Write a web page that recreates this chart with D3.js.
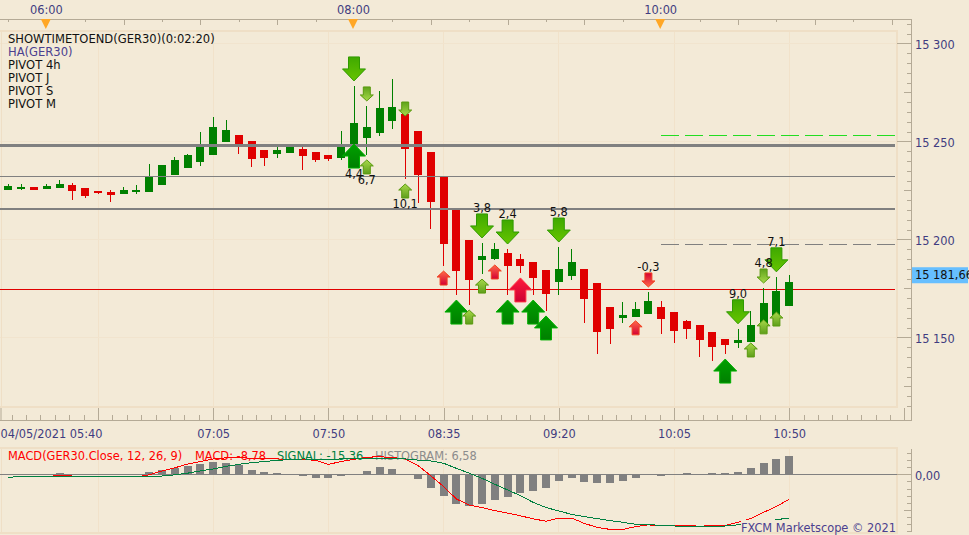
<!DOCTYPE html>
<html>
<head>
<meta charset="utf-8">
<title>GER30</title>
<script src="https://cdn.jsdelivr.net/npm/d3@7"></script>
<style>
    html, body { margin: 0; padding: 0; background: #f3ead7; overflow: hidden; }
    svg { display: block; }
    text { font-family: "DejaVu Sans", Verdana, sans-serif; font-size: 11.4px; }
    .axis path, .axis line { stroke: #b4aa96; fill: none; shape-rendering: crispEdges; }
    .axis text { fill: #3f3c80; font-size: 11.4px; font-family: "DejaVu Sans", Verdana, sans-serif; }
</style>
</head>
<body>
<div id="chart"></div>
<script>
// candles, one every 5 minutes from 05:45
var candleOpen = [15225.2,15225.7,15226.7,15225.7,15226.2,15227.7,15226.2,15224.6,15224.1,15223.1,15224.1,15224.1,15227.7,15232.8,15236.4,15239.4,15243.0,15249.6,15253.2,15250.2,15245.6,15243.5,15244.0,15246.1,15244.5,15243.0,15241.5,15247.1,15251.7,15254.2,15260.4,15263.9,15255.3,15244.5,15231.8,15215.0,15199.7,15189.5,15190.0,15193.0,15190.0,15188.4,15184.3,15178.2,15181.3,15184.8,15177.7,15165.5,15159.9,15160.4,15161.9,15165.5,15162.9,15158.4,15156.4,15152.7,15149.1,15147.1,15147.6,15155.9,15160.9,15166.0];
var candleClose = [15227.2,15226.7,15225.2,15227.2,15228.2,15224.6,15222.1,15223.6,15222.6,15225.2,15225.2,15231.8,15237.9,15240.5,15243.0,15247.1,15257.3,15255.8,15247.6,15241.0,15241.5,15245.6,15247.1,15242.5,15240.5,15241.0,15247.1,15259.3,15257.3,15267.0,15267.5,15246.1,15232.8,15219.0,15197.6,15183.8,15179.2,15191.5,15195.0,15186.4,15186.4,15180.3,15172.1,15184.8,15188.4,15169.5,15152.7,15154.2,15161.4,15164.4,15168.5,15159.4,15153.2,15154.2,15148.6,15145.1,15146.1,15148.6,15156.4,15167.5,15173.6,15178.2];
var candleHigh = [15228.2,15228.2,15226.7,15228.2,15230.3,15228.7,15226.2,15224.6,15225.2,15226.7,15227.7,15238.4,15237.9,15242.0,15243.5,15254.7,15262.4,15260.9,15253.2,15250.2,15245.6,15247.1,15248.1,15247.1,15244.5,15243.0,15255.3,15278.2,15268.0,15275.7,15281.8,15263.9,15255.3,15244.5,15231.8,15215.0,15199.7,15198.1,15198.1,15195.0,15192.5,15188.4,15184.3,15196.1,15195.0,15184.8,15177.7,15165.5,15168.0,15168.0,15173.1,15168.5,15162.9,15158.9,15156.4,15152.7,15149.1,15154.2,15163.4,15175.2,15180.8,15181.8];
var candleLow = [15225.2,15225.2,15225.2,15225.7,15226.2,15220.0,15221.1,15223.1,15219.0,15223.1,15223.1,15224.1,15227.7,15232.8,15236.4,15237.4,15243.0,15249.6,15243.5,15236.9,15237.4,15241.5,15244.0,15235.4,15239.4,15239.9,15240.5,15237.9,15243.0,15252.7,15256.3,15230.8,15218.5,15205.3,15186.4,15171.6,15166.5,15182.3,15189.5,15171.6,15182.8,15171.6,15163.4,15171.6,15179.2,15157.4,15141.5,15146.6,15157.4,15160.4,15161.9,15151.7,15147.1,15149.1,15140.0,15137.9,15141.5,15144.6,15147.6,15155.9,15160.9,15166.0];

// macd pane, same time steps
var macdValues = [-1.1,-0.7,-0.8,-0.8,-0.4,-0.6,-0.9,-0.9,-0.9,-0.9,-0.9,-0.2,1.2,2.3,3.6,4.5,5.4,5.8,6.0,5.6,5.4,5.4,5.3,5.3,4.9,3.5,4.5,5.3,6.0,6.2,5.9,5.4,3.1,-0.5,-4.3,-8.7,-10.8,-11.7,-12.8,-13.7,-14.6,-15.7,-16.5,-15.4,-15.4,-17.3,-18.7,-19.4,-19.4,-18.4,-17.8,-18.2,-18.2,-18.0,-18.3,-18.0,-18.0,-16.9,-15.6,-13.4,-11.3,-8.78];
var signalValues = [-1.1,-0.7,-0.8,-0.8,-0.8,-0.8,-0.8,-0.8,-0.8,-0.8,-0.9,-0.7,-0.6,-0.2,0.4,1.2,1.9,2.8,3.5,4.1,4.5,4.9,5.2,5.4,5.3,5.3,5.4,5.5,5.6,5.4,5.4,5.4,5.0,4.7,3.9,2.1,0.4,-1.4,-3.5,-5.5,-7.5,-9.9,-11.7,-12.9,-14.1,-14.9,-15.6,-16.3,-16.9,-17.6,-17.7,-18.0,-18.2,-18.3,-18.5,-18.5,-18.2,-17.8,-17.3,-16.7,-16.0,-15.36];
var histValues = [0,0,0,0,0.6,0,0,0,0,0,0,0.7,1.4,2.1,2.9,3.6,4.3,4.0,3.2,1.5,0.8,0.5,0,-0.6,-1.3,-1.3,-0.6,0,1.2,2.6,1.9,0,-1.6,-4.7,-7.5,-10.3,-11,-10.3,-8.9,-7.9,-6.5,-5.8,-4.7,-2.2,-1.2,-2.6,-2.9,-2.9,-2.2,-1.2,0,-0.5,0,0.5,0,0.5,0.5,0.8,2.2,4.0,5.4,6.58];

// pivot levels
var solidPivots = [15231.8, 15215.5];
var thickPivots = [15248.1];
var redPivots = [15174.6];
var dashedGreyPivots = [15197.1];
var dashedGreenPivots = [15253.2];

// arrows: [candle index, tip price, label]
var bigDown = [[27,15280.8,""],[37,15200.7,"3,8"],[39,15197.6,"2,4"],[43,15198.6,"5,8"],[57,15156.9,"9,0"],[60,15183.4,"7,1"]];
var bigUp = [[27,15248.6,"4,4"],[35,15169.0,""],[39,15169.0,""],[41,15169.0,""],[42,15160.9,""],[56,15138.9,""]];
var bigRedUp = [[40,15180.3,""]];
var smallDown = [[28,15270.6,""],[31,15262.9,""],[59,15177.7,"4,8"]];
var smallRedDown = [[50,15175.7,"-0,3"]];
var smallUp = [[28,15240.5,"6,7"],[31,15228.2,"10,1"],[36,15163.9,""],[37,15179.7,""],[58,15147.1,""],[59,15158.9,""],[60,15162.9,""]];
var smallRedUp = [[34,15183.8,""],[38,15186.9,""],[49,15158.4,""]];

var legendNames = ["SHOWTIMETOEND(GER30)(0:02:20)", "HA(GER30)", "PIVOT 4h", "PIVOT J", "PIVOT S", "PIVOT M"];
var lastPrice = 15181.66;
var priceLabels = [15300, 15250, 15200, 15150];
var sessionHours = [6, 8, 10];

var width = 969, height = 535;
var axisX = 911.5, paneRight = 897;

var t0 = new Date(2021, 4, 4, 5, 45);
function timeAt(i) { return new Date(+t0 + i * 5 * 60000); }
function minutes(h, m) { return new Date(2021, 4, 4, h, m); }

var x = d3.scaleTime().domain([t0, timeAt(72)]).range([8.4, 8.4 + 72 * 12.8]);
var y = d3.scaleLinear().domain([15300, 15150]).range([43.3, 337.3]);
var yMacd = d3.scaleLinear().domain([0, -10]).range([474.3, 502.7]);

var fr = d3.formatLocale({decimal: ",", thousands: " ", grouping: [3], currency: ["", ""]});
var fmtPrice = fr.format(",.0f"), fmtLast = fr.format(",.2f");

var svg = d3.select("#chart").append("svg").attr("width", width).attr("height", height);
var defs = svg.append("defs");

function gradient(id, c1, c2) {
    var g = defs.append("linearGradient").attr("id", id).attr("x1", 0).attr("y1", 0).attr("x2", 0).attr("y2", 1);
    g.append("stop").attr("offset", "0%").attr("stop-color", c1);
    g.append("stop").attr("offset", "100%").attr("stop-color", c2);
}
gradient("gBigDown", "#3fa900", "#66c400");
gradient("gBigUp", "#00a000", "#007f00");
gradient("gBigRed", "#ff1a3c", "#cc0033");
gradient("gSmallDown", "#5ea31a", "#a8d94a");
gradient("gSmallUp", "#a8d94a", "#5e9e1a");
gradient("gRedUp", "#ff6a4a", "#d40033");
gradient("gRedDown", "#d40033", "#ff6a4a");

// major time marks every 45 minutes starting 06:20
var firstMajor = minutes(6, 20);
var gridTimes = d3.range(0, 7).map(function (k) { return new Date(+firstMajor + k * 45 * 60000); });

// ---------- grid and pane borders ----------
var grid = svg.append("g").style("shape-rendering", "crispEdges");
grid.selectAll(".vmain").data(gridTimes).enter().append("line")
    .attr("x1", function (d) { return x(d); }).attr("x2", function (d) { return x(d); })
    .attr("y1", 31).attr("y2", 407).attr("stroke", "#f1e2ca");
grid.selectAll(".vmacd").data(gridTimes).enter().append("line")
    .attr("x1", function (d) { return x(d); }).attr("x2", function (d) { return x(d); })
    .attr("y1", 449).attr("y2", 533).attr("stroke", "#f1e2ca");
grid.selectAll(".h").data(priceLabels).enter().append("line")
    .attr("x1", 0).attr("x2", paneRight)
    .attr("y1", function (d) { return y(d); }).attr("y2", function (d) { return y(d); })
    .attr("stroke", "#f1e4ce");
[[31, 407], [448, 533]].forEach(function (p) {
    grid.append("path")
        .attr("d", "M0," + p[0] + "H" + paneRight + "V" + p[1] + "H0")
        .attr("fill", "none").attr("stroke", "#efdfc6").attr("stroke-width", 2);
});
grid.append("line").attr("x1", 1).attr("x2", 1).attr("y1", 31).attr("y2", 407).attr("stroke", "#efdfc6");
grid.append("line").attr("x1", 1).attr("x2", 1).attr("y1", 448).attr("y2", 533).attr("stroke", "#efdfc6");

// ---------- axes ----------
function hline(level, color, sw, xStart, dash) {
    var l = svg.append("line")
        .attr("x1", xStart).attr("x2", paneRight - 2)
        .attr("y1", y(level)).attr("y2", y(level))
        .attr("stroke", color).attr("stroke-width", sw)
        .style("shape-rendering", "crispEdges");
    if (dash) l.attr("stroke-dasharray", dash);
}

// top time axis
var topTicks = d3.range(0, 24).map(function (k) { return new Date(+minutes(5, 45) + k * 15 * 60000); });
var topMajor = topTicks.filter(function (d) { return d.getMinutes() % 30 === 0; });
var topMinor = topTicks.filter(function (d) { return d.getMinutes() % 30 !== 0; });
svg.append("g").attr("class", "axis").attr("transform", "translate(0,18.5)")
    .call(d3.axisBottom(x).tickValues(topMajor).tickSize(6).tickSizeOuter(0).tickFormat(""))
    .select(".domain").attr("d", "M0,0.5H" + axisX);
svg.append("g").attr("class", "axis").attr("transform", "translate(0,18.5)")
    .call(d3.axisBottom(x).tickValues(topMinor).tickSize(3).tickSizeOuter(0).tickFormat(""))
    .select(".domain").remove();
var sessions = sessionHours.map(function (h) { return minutes(h, 0); });
var topLabels = svg.append("g").attr("class", "axis").attr("transform", "translate(-1,14)")
    .call(d3.axisTop(x).tickValues(sessions).tickSize(0).tickPadding(0).tickFormat(d3.timeFormat("%H:%M")));
topLabels.select(".domain").remove();
svg.selectAll(".sessionMark").data(sessions).enter().append("path")
    .attr("d", function (d) {
        var px = x(d) - 1;
        return "M" + (px - 5) + ",19H" + (px + 5) + "L" + px + ",29Z";
    })
    .attr("fill", "#ffa726");

// bottom time axis, 8 divisions in every 45 minutes
var bottomMinor = d3.range(-6, 70).map(function (k) { return new Date(+firstMajor + k * 5.625 * 60000); })
    .filter(function (d) { return x(d) > 2 && x(d) < axisX - 2; });
var bottomMajor = d3.range(0, 8).map(function (k) { return new Date(+firstMajor + k * 45 * 60000); });
svg.append("g").attr("class", "axis").attr("transform", "translate(0,420.5)")
    .call(d3.axisTop(x).tickValues(bottomMinor).tickSize(6).tickSizeOuter(0).tickFormat(""))
    .select(".domain").attr("d", "M0,0H" + axisX);
svg.append("g").attr("class", "axis").attr("transform", "translate(0,420.5)")
    .call(d3.axisTop(x).tickValues(bottomMajor).tickSize(13).tickSizeOuter(0).tickFormat(""))
    .select(".domain").remove();
svg.append("line").attr("x1", 1).attr("x2", 1).attr("y1", 408).attr("y2", 421).attr("stroke", "#b4aa96");

var firstLabel = minutes(5, 40);
var labelTimes = [firstLabel].concat(bottomMajor.slice(1, 7));
var bottomLabels = svg.append("g").attr("class", "axis").attr("transform", "translate(0,418)")
    .call(d3.axisBottom(x).tickValues(labelTimes).tickSize(0).tickPadding(12)
        .tickFormat(function (d, i) { return i === 0 ? d3.timeFormat("%d/%m/%Y %H:%M")(d) : d3.timeFormat("%H:%M")(d); }));
bottomLabels.select(".domain").remove();
bottomLabels.select(".tick text").attr("text-anchor", "start").attr("x", -x(firstLabel));

// price axis
var priceTicks = d3.range(15115, 15315, 5);
function priceTickLen(v) { return v % 50 === 0 ? 15 : (v % 25 === 0 ? 8 : 5); }
[15, 8, 5].forEach(function (len) {
    svg.append("g").attr("class", "axis").attr("transform", "translate(" + axisX + ",0)")
        .call(d3.axisLeft(y).tickValues(priceTicks.filter(function (v) { return priceTickLen(v) === len; }))
            .tickSize(len).tickSizeOuter(0).tickFormat(""))
        .select(".domain").attr("d", "M0,18.5V421");
});
var priceAxisLabels = svg.append("g").attr("class", "axis").attr("transform", "translate(" + (axisX + 3.5) + ",1.5)")
    .call(d3.axisRight(y).tickValues(priceLabels).tickSize(0).tickPadding(0).tickFormat(fmtPrice));
priceAxisLabels.select(".domain").remove();

// macd axis
var macdTicks = d3.range(-20, 10, 2.5);
function macdTickLen(v) { return v === 0 ? 15 : (v === -12.5 ? 8 : 5); }
[15, 8, 5].forEach(function (len) {
    svg.append("g").attr("class", "axis").attr("transform", "translate(" + axisX + ",0)")
        .call(d3.axisLeft(yMacd).tickValues(macdTicks.filter(function (v) { return macdTickLen(v) === len; }))
            .tickSize(len).tickSizeOuter(0).tickFormat(""))
        .select(".domain").attr("d", "M0,449V532");
});
var macdAxisLabels = svg.append("g").attr("class", "axis").attr("transform", "translate(" + (axisX + 3.5) + ",1.5)")
    .call(d3.axisRight(yMacd).tickValues([0]).tickSize(0).tickPadding(0).tickFormat(function () { return "0,00"; }));
macdAxisLabels.select(".domain").remove();

// ---------- main pane ----------
redPivots.forEach(function (v) { hline(v, "#e00000", 1, 0); });

var idx = d3.range(candleOpen.length);
function candleColor(i) { return candleClose[i] >= candleOpen[i] ? "#008000" : "#e00000"; }

var candles = svg.append("g").style("shape-rendering", "crispEdges");
candles.selectAll(".wick").data(idx).enter().append("line")
    .attr("x1", function (i) { return x(timeAt(i)); })
    .attr("x2", function (i) { return x(timeAt(i)); })
    .attr("y1", function (i) { return y(candleHigh[i]); })
    .attr("y2", function (i) { return y(candleLow[i]); })
    .attr("stroke", candleColor);
candles.selectAll(".body").data(idx).enter().append("rect")
    .attr("x", function (i) { return x(timeAt(i)) - 4; })
    .attr("width", 8)
    .attr("y", function (i) { return y(Math.max(candleOpen[i], candleClose[i])); })
    .attr("height", function (i) { return Math.abs(y(candleOpen[i]) - y(candleClose[i])); })
    .attr("fill", candleColor);

thickPivots.forEach(function (v) { hline(v, "#808080", 3, 0); });
solidPivots.forEach(function (v, i) { hline(v, "#808080", i === 0 ? 1 : 2, 0); });
var sessionStart = x(minutes(10, 0));
dashedGreyPivots.forEach(function (v) { hline(v, "#808080", 1, sessionStart, "18 6"); });
dashedGreenPivots.forEach(function (v) { hline(v, "#22dd22", 1, sessionStart, "18 6"); });

// arrow outline with the tip at 0,0
function arrowPath(w, stem, head, total, dir) {
    var s = dir === "up" ? 1 : -1;
    return "M0,0L" + (w / 2) + "," + (s * head) + "H" + (stem / 2) + "V" + (s * total) +
        "H" + (-stem / 2) + "V" + (s * head) + "H" + (-w / 2) + "Z";
}

var arrowLayer = svg.append("g");
var labelLayer = svg.append("g");

function drawArrows(list, size, dir, fill, edge) {
    var w = size === "big" ? 23 : 13;
    var stem = size === "big" ? 11 : 7;
    var head = size === "big" ? 12 : 6;
    var total = size === "big" ? 24 : 14;
    arrowLayer.selectAll(null).data(list).enter().append("path")
        .attr("transform", function (d) { return "translate(" + x(timeAt(d[0])) + "," + y(d[1]) + ")"; })
        .attr("d", arrowPath(w, stem, head, total, dir))
        .attr("fill", fill).attr("stroke", edge).attr("stroke-width", 1);
    labelLayer.selectAll(null).data(list.filter(function (d) { return d[2] !== ""; })).enter().append("text")
        .attr("x", function (d) { return x(timeAt(d[0])); })
        .attr("y", function (d) { return y(d[1]) + (dir === "up" ? total + 10 : -total - 2); })
        .attr("text-anchor", "middle")
        .attr("fill", "#111")
        .text(function (d) { return d[2]; });
}
drawArrows(bigDown, "big", "down", "url(#gBigDown)", "#2f9a00");
drawArrows(bigUp, "big", "up", "url(#gBigUp)", "#00b000");
drawArrows(bigRedUp, "big", "up", "url(#gBigRed)", "#ff3040");
drawArrows(smallDown, "small", "down", "url(#gSmallDown)", "#5a9a10");
drawArrows(smallRedDown, "small", "down", "url(#gRedDown)", "#f04020");
drawArrows(smallUp, "small", "up", "url(#gSmallUp)", "#5a9a10");
drawArrows(smallRedUp, "small", "up", "url(#gRedUp)", "#f04020");

// indicator names
svg.append("g").selectAll("text").data(legendNames).enter().append("text")
    .attr("x", 8)
    .attr("y", function (d, i) { return 43 + i * 13; })
    .attr("fill", function (d, i) { return i === 1 ? "#4b3f8f" : "#111"; })
    .style("font-size", "11.55px")
    .text(function (d) { return d; });

// last price tag
svg.append("rect").attr("x", axisX + 0.5).attr("y", y(lastPrice) - 8).attr("width", 56).attr("height", 16).attr("fill", "#66bfff");
svg.append("text").attr("x", axisX + 3.5).attr("y", y(lastPrice) + 4).attr("fill", "#111").text(fmtLast(lastPrice));

// ---------- macd pane ----------
svg.append("g").style("shape-rendering", "crispEdges")
    .selectAll("rect").data(idx.filter(function (i) { return histValues[i] !== 0; })).enter().append("rect")
    .attr("x", function (i) { return x(timeAt(i)) - 4; })
    .attr("width", 8)
    .attr("y", function (i) { return Math.min(yMacd(histValues[i]), yMacd(0)); })
    .attr("height", function (i) { return Math.abs(yMacd(histValues[i]) - yMacd(0)); })
    .attr("fill", "#808080");
svg.append("line").attr("x1", 0).attr("x2", paneRight)
    .attr("y1", yMacd(0)).attr("y2", yMacd(0))
    .attr("stroke", "#808080").style("shape-rendering", "crispEdges");

[["MACD(GER30.Close, 12, 26, 9)", 8, "#ff0000"], ["MACD: -8,78", 195, "#ff0000"],
    ["SIGNAL: -15,36", 277, "#008040"], ["HISTOGRAM: 6,58", 375, "#8c8c8c"]].forEach(function (t) {
    svg.append("text").attr("x", t[1]).attr("y", 460).attr("fill", t[2]).text(t[0]);
});

var macdLine = d3.line().x(function (d, i) { return x(timeAt(i)); }).y(function (d) { return yMacd(d); });
svg.append("path").datum(macdValues).attr("d", macdLine)
    .attr("fill", "none").attr("stroke", "#ff0000").style("shape-rendering", "crispEdges");
svg.append("path").datum(signalValues).attr("d", macdLine)
    .attr("fill", "none").attr("stroke", "#008040").style("shape-rendering", "crispEdges");

svg.append("rect").attr("x", 741).attr("y", 520).attr("width", 155).attr("height", 12).attr("fill", "#f3ead7");
svg.append("text").attr("x", 896).attr("y", 532).attr("text-anchor", "end").attr("fill", "#4b3f8f")
    .text("FXCM Marketscope \u00a9 2021");
</script>
</body>
</html>
